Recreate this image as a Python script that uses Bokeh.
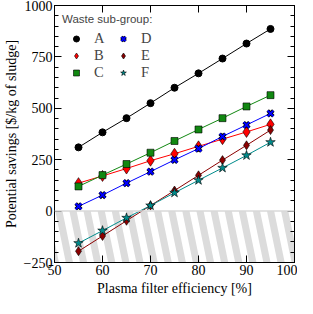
import numpy as np
from bokeh.plotting import figure
from bokeh.models import Legend, LegendItem, FixedTicker, Span, LinearAxis, CustomJSTickFormatter
from bokeh.embed import file_html
from bokeh.resources import INLINE

# ---- data ----
efficiency = [55, 60, 65, 70, 75, 80, 85, 90, 95]
series_A = [310, 383, 452, 525, 600, 670, 742, 815, 886]
series_B = [136, 171, 207, 245, 279, 315, 350, 385, 422]
series_C = [120, 175, 229, 284, 341, 397, 452, 509, 564]
series_D = [23, 78, 136, 192, 249, 304, 363, 419, 475]
series_E = [-195, -121, -47, 27, 100, 174, 248, 320, 394]
series_F = [-156, -95, -33, 27, 89, 150, 210, 271, 335]
x_ticks = [50, 60, 70, 80, 90, 100]
y_ticks = [-250, 0, 250, 500, 750, 1000]
y_minor = [v for v in range(-250, 1001, 50)]

SERIF = "Liberation Serif"
SANS = "Liberation Sans"

p = figure(width=297, height=298, output_backend="svg", toolbar_location=None,
           x_range=(50, 100), y_range=(-250, 1000),
           min_border_left=0, min_border_right=3, min_border_top=5, min_border_bottom=0)
p.xgrid.visible = False
p.ygrid.visible = False
p.outline_line_color = "black"
p.outline_line_width = 1
p.background_fill_color = "white"

# ---- hatched "loss" region below zero (decoration) ----
period = 2.94
gray_w = 1.5
shift = 2.2
xs, ys = [], []
for k in range(-3, 22):
    x0 = 82.5 - 11 * period + k * period
    xs.append([x0, x0 + gray_w, x0 + gray_w + shift, x0 + shift])
    ys.append([0, 0, -250, -250])
p.patches(xs, ys, fill_color="#dcdcdc", line_color=None)
p.add_layout(Span(location=0, dimension="width", line_color="#d8d8d8", line_width=1.5))

# ---- series ----
lines = [
    (series_A, "black"),
    (series_B, "#ff0000"),
    (series_C, "#118811"),
    (series_D, "#0000ff"),
    (series_E, "#8b0000"),
    (series_F, "#008b8b"),
]
for ys_, col in lines:
    p.line(efficiency, ys_, line_color=col, line_width=1)

rA = p.scatter(efficiency, series_A, marker="circle", size=7, fill_color="black", line_color="black")
rB = p.scatter(efficiency, series_B, marker="diamond", size=11, fill_color="#ff0000", line_color="black", line_width=0.6)
rC = p.scatter(efficiency, series_C, marker="square", size=7, fill_color="#118811", line_color="black", line_width=0.6)
rD0 = p.scatter(efficiency, series_D, marker="x", size=8, line_color="black", line_width=3.5)
rD = p.scatter(efficiency, series_D, marker="x", size=8, line_color="#0000ff", line_width=2)
rE = p.scatter(efficiency, series_E, marker="diamond", size=9, fill_color="#8b0000", line_color="black", line_width=0.6)
rF = p.scatter(efficiency, series_F, marker="star", size=10, fill_color="#008b8b", line_color="black", line_width=0.6)

# ---- axes ----
def style_axis(ax, labels=True):
    ax.axis_line_color = "black"
    ax.major_tick_in = 7
    ax.major_tick_out = 0
    ax.major_tick_line_color = "black"
    ax.minor_tick_out = 0
    if labels:
        ax.major_label_text_font = SERIF
        ax.major_label_text_font_size = "14px"
        ax.major_label_text_color = "black"
        ax.axis_label_text_font = SERIF
        ax.axis_label_text_font_size = "14px"
        ax.axis_label_text_font_style = "normal"
        ax.axis_label_text_color = "black"
    else:
        ax.formatter = CustomJSTickFormatter(code="return ''")
        ax.major_label_standoff = 0

xa = p.xaxis[0]
xa.ticker = FixedTicker(ticks=x_ticks)
xa.axis_label = "Plasma filter efficiency [%]"
style_axis(xa)
xa.minor_tick_line_color = None
xa.major_label_standoff = 2
xa.axis_label_standoff = 3

ya = p.yaxis[0]
ya.ticker = FixedTicker(ticks=y_ticks, minor_ticks=y_minor)
ya.axis_label = "Potential savings [$/kg of sludge]"
style_axis(ya)
ya.minor_tick_in = 4
ya.major_label_standoff = 2
ya.axis_label_standoff = 2
ya.major_label_overrides = {-250: "\u2212250"}

xt = LinearAxis(ticker=FixedTicker(ticks=x_ticks))
style_axis(xt, labels=False)
xt.minor_tick_line_color = None
p.add_layout(xt, "above")
yr = LinearAxis(ticker=FixedTicker(ticks=y_ticks, minor_ticks=y_minor))
style_axis(yr, labels=False)
yr.minor_tick_in = 4
p.add_layout(yr, "right")

# ---- legend ----
legend = Legend(items=[
    LegendItem(label="A", renderers=[rA]),
    LegendItem(label="B", renderers=[rB]),
    LegendItem(label="C", renderers=[rC]),
    LegendItem(label="D", renderers=[rD0, rD]),
    LegendItem(label="E", renderers=[rE]),
    LegendItem(label="F", renderers=[rF]),
], ncols=2, location="top_left")
legend.title = "Waste sub-group:"
legend.title_text_font = SANS
legend.title_text_font_size = "11.5px"
legend.title_text_font_style = "normal"
legend.title_standoff = 5
legend.label_text_font = SERIF
legend.label_text_font_size = "14.5px"
legend.label_height = 15
legend.glyph_height = 15
legend.glyph_width = 28
legend.label_standoff = 4
legend.label_width = 15
legend.spacing = 0
legend.margin = 8
legend.padding = 4
legend.border_line_color = None
legend.background_fill_alpha = 0
p.add_layout(legend, "center")

open("out.html", "w").write(file_html(p, INLINE))
